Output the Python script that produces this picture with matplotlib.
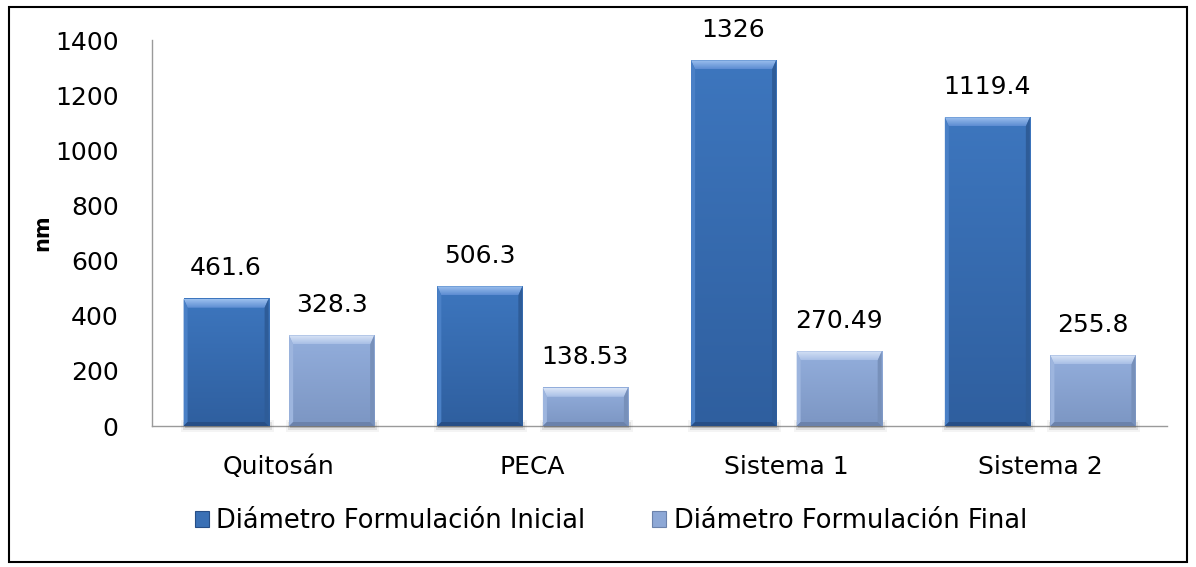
import matplotlib
matplotlib.use("Agg")
import matplotlib.pyplot as plt
import numpy as np
from matplotlib.patches import Polygon, Rectangle
from matplotlib.colors import to_rgb

categories = ["Quitosán", "PECA", "Sistema 1", "Sistema 2"]
series_names = ["Diámetro Formulación Inicial", "Diámetro Formulación Final"]
inicial = [461.6, 506.3, 1326, 1119.4]
final = [328.3, 138.53, 270.49, 255.8]
inicial_labels = ["461.6", "506.3", "1326", "1119.4"]
final_labels = ["328.3", "138.53", "270.49", "255.8"]
yticks = [0, 200, 400, 600, 800, 1000, 1200, 1400]

plt.rcParams['font.family'] = ['DejaVu Sans']

W, H = 1196, 567
fig = plt.figure(figsize=(W / 100, H / 100), dpi=100)
ax = fig.add_axes([152 / W, 1 - 426 / H, (1167 - 152) / W, (426 - 40) / H])

x = np.arange(len(categories))
bw = 0.335
off = 0.208

styles = [
    dict(face_top="#3D76BE", face_bot="#2F5F9F", bev_top="#9CC0EE", bev_bot="#5C8CD2",
         left="#4A80C6", right="#2E5C98", bottom="#274E86", face="#3A70B5"),
    dict(face_top="#93AEDC", face_bot="#7C96C3", bev_top="#D9E4F6", bev_bot="#A8BFE6",
         left="#9DB5DE", right="#7790BA", bottom="#6B82AB", face="#8DA8D6"),
]

bars1 = ax.bar(x - off, inicial, bw, color="none", zorder=3)
bars2 = ax.bar(x + off, final, bw, color="none", zorder=3)

ax.set_xlim(-0.5, len(categories) - 0.5)
ax.set_ylim(0, 1400)
ax.set_yticks(yticks)
ax.set_xticks(x)
ax.set_xticklabels(categories, fontsize=18)
ax.tick_params(axis='y', length=0, pad=24, labelsize=18)
ax.tick_params(axis='x', length=0, pad=21)
for s in ["top", "right"]:
    ax.spines[s].set_visible(False)
for s in ["left", "bottom"]:
    ax.spines[s].set_color("#9a9a9a")
    ax.spines[s].set_linewidth(1.0)
ax.spines["bottom"].set_zorder(2)
ax.set_ylabel("nm", fontsize=15, fontweight="bold", labelpad=2)

fig.canvas.draw()
bbox = ax.get_window_extent()
px_x = bbox.width / (ax.get_xlim()[1] - ax.get_xlim()[0])
px_y = bbox.height / (ax.get_ylim()[1] - ax.get_ylim()[0])


def grad(c_top, c_bot, n=64):
    a = np.array(to_rgb(c_top))
    b = np.array(to_rgb(c_bot))
    t = np.linspace(0, 1, n)[:, None]
    return (a * (1 - t) + b * t)[:, None, :]


for bars, st in ((bars1, styles[0]), (bars2, styles[1])):
    for b in bars:
        x0 = b.get_x()
        x1 = x0 + b.get_width()
        y0 = 0
        y1 = b.get_height()
        bt = 9 / px_y      # top bevel height
        bs = 4 / px_x      # side bevel width
        bb = 4 / px_y      # bottom bevel height
        # shadow
        for k, a in enumerate([0.16, 0.10, 0.05]):
            d = (1 + 2 * k)
            ax.add_patch(Rectangle((x0 - (d - 2) / px_x, y0 - (d + 1) / px_y),
                                   (x1 - x0) + (2 * d - 2) / px_x, (2 * d + 2) / px_y,
                                   facecolor="#303030", edgecolor="none", alpha=a,
                                   zorder=2.5, clip_on=False))
        # face gradient
        ax.imshow(grad(st["face_top"], st["face_bot"]), extent=[x0, x1, y0, y1],
                  aspect="auto", interpolation="bilinear", zorder=3)
        # top bevel
        top_poly = Polygon([(x0, y1), (x1, y1), (x1 - bs, y1 - bt), (x0 + bs, y1 - bt)],
                           closed=True, facecolor="none", edgecolor="none")
        ax.add_patch(top_poly)
        im = ax.imshow(grad(st["bev_top"], st["bev_bot"]), extent=[x0, x1, y1 - bt, y1],
                       aspect="auto", interpolation="bilinear", zorder=4)
        im.set_clip_path(top_poly)
        ax.add_patch(Polygon([(x0, y0), (x0, y1), (x0 + bs, y1 - bt), (x0 + bs, y0 + bb)],
                             closed=True, facecolor=st["left"], edgecolor="none", zorder=4))
        ax.add_patch(Polygon([(x1, y0), (x1, y1), (x1 - bs, y1 - bt), (x1 - bs, y0 + bb)],
                             closed=True, facecolor=st["right"], edgecolor="none", zorder=4))
        ax.add_patch(Polygon([(x0, y0), (x1, y0), (x1 - bs, y0 + bb), (x0 + bs, y0 + bb)],
                             closed=True, facecolor=st["bottom"], edgecolor="none", zorder=4))

ax.set_xlim(-0.5, len(categories) - 0.5)
ax.set_ylim(0, 1400)

for bars, labels in ((bars1, inicial_labels), (bars2, final_labels)):
    for b, lab in zip(bars, labels):
        ax.annotate(lab, (b.get_x() + b.get_width() / 2, b.get_height()),
                    xytext=(0, 22), textcoords="offset points", ha="center", va="center",
                    fontsize=18, annotation_clip=False)

# legend
lh = [Rectangle((0, 0), 1, 1, facecolor=styles[0]["face"], edgecolor=styles[0]["bottom"], linewidth=0.8),
      Rectangle((0, 0), 1, 1, facecolor=styles[1]["face"], edgecolor=styles[1]["bottom"], linewidth=0.8)]
fig.legend(lh, series_names, loc="center", bbox_to_anchor=(611 / W, 1 - 521 / H), ncol=2,
           frameon=False, fontsize=18.5, handlelength=0.55, handleheight=0.55,
           handletextpad=0.3, columnspacing=2.6, borderpad=0, borderaxespad=0)

# border
fig.patches.append(Rectangle((9 / W, 1 - 562 / H), (1187 - 9) / W, (562 - 7) / H,
                             transform=fig.transFigure, facecolor="none",
                             edgecolor="black", linewidth=1.5, zorder=10))

fig.savefig("out.png", dpi=100)
